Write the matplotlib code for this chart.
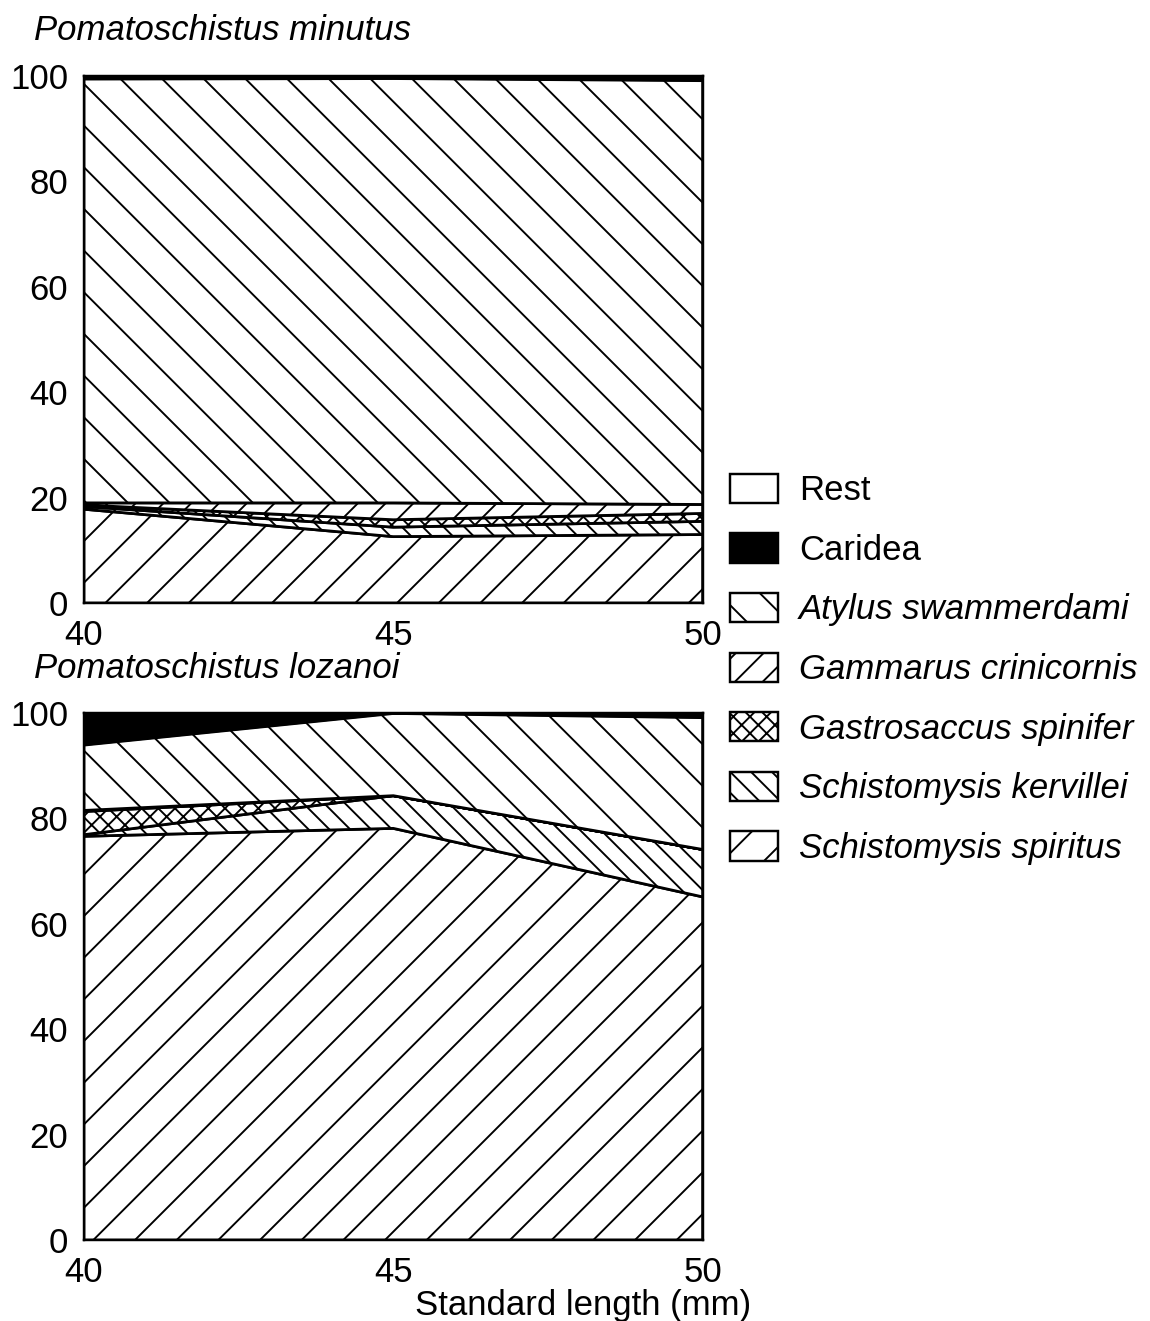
import matplotlib
matplotlib.use("Agg")
import matplotlib.pyplot as plt
from matplotlib.patches import Patch

plt.rcParams['font.family'] = ['Liberation Sans', 'DejaVu Sans']
plt.rcParams['hatch.linewidth'] = 0.55

# standard length classes (mm)
lengths = [40, 45, 50]

# stacking order, bottom to top
taxa = ["Schistomysis spiritus", "Schistomysis kervillei", "Gastrosaccus spinifer",
        "Gammarus crinicornis", "Atylus swammerdami", "Caridea", "Rest"]

# Pomatoschistus minutus, % contribution per length class
minutus_spiritus = [17.8, 12.6, 13.0]
minutus_kervillei = [0.5, 1.8, 2.5]
minutus_gastro = [0.3, 1.4, 1.5]
minutus_gammarus = [0.4, 3.2, 1.7]
minutus_atylus = [80.5, 80.6, 80.5]
minutus_caridea = [0.5, 0.4, 0.8]
minutus_rest = [0.0, 0.0, 0.0]

# Pomatoschistus lozanoi
lozanoi_spiritus = [76.6, 78.1, 65.1]
lozanoi_kervillei = [0.3, 6.2, 9.0]
lozanoi_gastro = [4.4, 0.0, 0.0]
lozanoi_gammarus = [0.2, 0.0, 0.0]
lozanoi_atylus = [12.5, 15.7, 25.1]
lozanoi_caridea = [6.0, 0.0, 0.8]
lozanoi_rest = [0.0, 0.0, 0.0]

# fill style per taxon: (facecolor, hatch)
styles = {
    "Schistomysis spiritus": ("white", "//"),
    "Schistomysis kervillei": ("white", "\\\\\\\\"),
    "Gastrosaccus spinifer": ("white", "xxxxx"),
    "Gammarus crinicornis": ("white", "///"),
    "Atylus swammerdami": ("white", "\\\\"),
    "Caridea": ("black", None),
    "Rest": ("white", None),
}

DPI = 250
fig = plt.figure(figsize=(1150 / DPI, 1321 / DPI), dpi=DPI)
FS = 10


def draw_panel(ax, layers):
    base = [0.0] * len(lengths)
    for name, vals in zip(taxa, layers):
        top = [b + v for b, v in zip(base, vals)]
        fc, h = styles[name]
        ax.fill_between(lengths, base, top, facecolor=fc, edgecolor="black",
                        hatch=h, linewidth=0.8)
        base = top
    ax.set_xlim(40, 50)
    ax.set_ylim(0, 100)
    ax.set_xticks([40, 45, 50])
    ax.set_yticks([0, 20, 40, 60, 80, 100])
    ax.tick_params(length=0, labelsize=FS, pad=4.5)
    for s in ax.spines.values():
        s.set_linewidth(0.7)


ax1 = fig.add_axes([0.073, 0.5435, 0.538, 0.399])
draw_panel(ax1, [minutus_spiritus, minutus_kervillei, minutus_gastro, minutus_gammarus,
                 minutus_atylus, minutus_caridea, minutus_rest])
ax2 = fig.add_axes([0.073, 0.0613, 0.538, 0.399])
draw_panel(ax2, [lozanoi_spiritus, lozanoi_kervillei, lozanoi_gastro, lozanoi_gammarus,
                 lozanoi_atylus, lozanoi_caridea, lozanoi_rest])

fig.text(0.030, 0.977, "Pomatoschistus minutus", fontsize=FS, style="italic", va="center")
fig.text(0.030, 0.494, "Pomatoschistus lozanoi", fontsize=FS, style="italic", va="center")
fig.text(0.507, 0.012, "Standard length (mm)", fontsize=FS, ha="center", va="center")

# legend, top to bottom
leg_names = taxa[::-1]
handles = []
for name in leg_names:
    fc, h = styles[name]
    handles.append(Patch(facecolor=fc, edgecolor="black", hatch=h, linewidth=0.7))
leg = fig.legend(handles, leg_names, loc="upper left", bbox_to_anchor=(0.623, 0.652),
                 frameon=False, fontsize=FS, handlelength=1.38, handleheight=0.92,
                 handletextpad=0.6, labelspacing=0.75, borderaxespad=0)
for t in leg.get_texts():
    if t.get_text() not in ("Rest", "Caridea"):
        t.set_style("italic")

fig.savefig("out.png", dpi=DPI)
